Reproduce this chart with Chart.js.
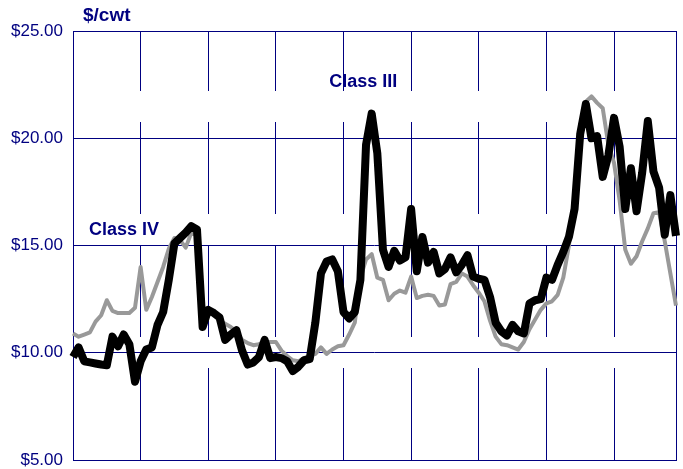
<!DOCTYPE html>
<html>
<head>
<meta charset="utf-8">
<script src="https://cdn.jsdelivr.net/npm/chart.js@4/dist/chart.umd.min.js"></script>
<style>
  html, body { margin: 0; padding: 0; background: #fff; }
  #wrap { width: 683px; height: 469px; }
</style>
</head>
<body>
<div id="wrap"><canvas id="milkChart"></canvas></div>
<script>
// monthly prices, $/cwt
const years = ['2000', '2001', '2002', '2003', '2004', '2005', '2006', '2007', '2008'];
const months = ['Jan', 'Feb', 'Mar', 'Apr', 'May', 'Jun', 'Jul', 'Aug', 'Sep', 'Oct', 'Nov', 'Dec'];

const classIII = [
  9.80, 10.25, 9.60, 9.55, 9.50, 9.45, 9.42, 10.75, 10.30, 10.85, 10.40, 8.65,
  9.60, 10.15, 10.25, 11.30, 11.90, 13.40, 15.10, 15.35, 15.60, 15.90, 15.75, 11.20,
  12.00, 11.85, 11.65, 10.60, 10.85, 11.05, 10.10, 9.45, 9.55, 9.80, 10.60, 9.75,
  9.80, 9.75, 9.60, 9.15, 9.35, 9.65, 9.70, 11.40, 13.70, 14.25, 14.35, 13.80,
  11.90, 11.60, 11.90, 13.40, 19.70, 21.15, 19.30, 14.80, 14.00, 14.75, 14.30, 14.45,
  16.70, 13.80, 15.40, 14.20, 14.70, 13.70, 13.90, 14.45, 13.75, 14.10, 14.55, 13.55,
  13.45, 13.40, 12.60, 11.40, 11.00, 10.80, 11.30, 11.00, 10.90, 12.30, 12.45, 12.50,
  13.50, 13.40, 14.10, 14.70, 15.40, 16.70, 20.20, 21.60, 20.00, 20.10, 18.20, 19.20,
  20.95, 19.60, 16.70, 18.60, 16.60, 18.40, 20.80, 18.45, 17.70, 15.50, 17.35, 15.45
];

const classIV = [
  10.90, 10.75, 10.85, 10.95, 11.45, 11.75, 12.45, 11.95, 11.85, 11.85, 11.85, 12.10,
  14.00, 12.00, 12.60, 13.30, 14.00, 14.85, 15.35, 15.25, 14.90, 15.60, 15.50, 11.60,
  11.90, 11.80, 11.50, 11.35, 11.20, 11.00, 10.60, 10.45, 10.35, 10.40, 10.50, 10.50,
  10.50, 10.10, 9.85, 9.65, 9.60, 9.75, 9.85, 9.95, 10.25, 9.95, 10.15, 10.30,
  10.35, 10.85, 11.40, 13.50, 14.35, 14.60, 13.50, 13.40, 12.45, 12.75, 12.90, 12.80,
  13.55, 12.55, 12.65, 12.70, 12.65, 12.20, 12.25, 13.20, 13.30, 13.70, 13.55, 13.15,
  12.80, 12.40, 11.50, 10.75, 10.40, 10.35, 10.25, 10.15, 10.50, 11.10, 11.55, 12.00,
  12.30, 12.40, 12.70, 13.50, 15.00, 17.40, 20.60, 21.70, 21.95, 21.65, 21.40, 19.70,
  18.85, 17.10, 14.80, 14.15, 14.50, 15.20, 15.80, 16.50, 16.55, 15.20, 13.70, 12.20
];

const yTicks = [5, 10, 15, 20, 25];

const navy = '#000080';
const fontFamily = '"Liberation Sans", Arial, sans-serif';

const labels = [];
years.forEach(y => months.forEach(m => labels.push(m + ' ' + y)));

// frame round the plot area and the text labels
const framePlugin = {
  id: 'frame',
  beforeDatasetsDraw(chart) {
    const { ctx, chartArea: a } = chart;
    ctx.save();
    ctx.strokeStyle = navy;
    ctx.lineWidth = 1;
    ctx.strokeRect(Math.round(a.left) + 0.5, Math.round(a.top) + 0.5,
      Math.round(a.right - a.left), Math.round(a.bottom - a.top));
    ctx.restore();
  },
  afterDraw(chart) {
    const { ctx, chartArea: a, scales: { x, y } } = chart;
    ctx.save();
    ctx.fillStyle = navy;
    ctx.textAlign = 'left';
    ctx.textBaseline = 'middle';
    ctx.font = 'bold 19px ' + fontFamily;
    ctx.fillText('$/cwt', a.left + 10, 16);
    ctx.font = 'bold 18px ' + fontFamily;
    ctx.fillText('Class III', x.getPixelForValue(45.45), y.getPixelForValue(22.62));
    ctx.fillText('Class IV', x.getPixelForValue(2.85), y.getPixelForValue(15.72));
    ctx.restore();
  }
};

const ctx = document.getElementById('milkChart').getContext('2d');
new Chart(ctx, {
  type: 'line',
  data: {
    labels: labels,
    datasets: [
      {
        label: 'Class III',
        data: classIII,
        borderColor: '#000000',
        borderWidth: 8,
        borderJoinStyle: 'round',
        pointRadius: 0,
        tension: 0,
        fill: false
      },
      {
        label: 'Class IV',
        data: classIV,
        borderColor: '#999999',
        borderWidth: 4,
        borderJoinStyle: 'round',
        pointRadius: 0,
        tension: 0,
        fill: false
      }
    ]
  },
  options: {
    responsive: true,
    maintainAspectRatio: false,
    animation: false,
    devicePixelRatio: 1,
    layout: { padding: { top: 31, right: 7, bottom: 9, left: 0 } },
    plugins: {
      legend: { display: false },
      tooltip: { enabled: false }
    },
    scales: {
      x: {
        offset: false,
        afterFit: scale => {
          scale.height = 0;
          scale.paddingLeft = 0;
          scale.paddingRight = 0;
        },
        ticks: { display: false, autoSkip: false, padding: 0 },
        grid: {
          offset: false,
          drawTicks: false,
          lineWidth: 1,
          color: c => (c.index > 0 && c.index % 12 === 0) ? navy : 'rgba(0,0,0,0)'
        },
        border: { display: false, dash: [92, 31], dashOffset: 32 }
      },
      y: {
        min: 5,
        max: 25,
        afterBuildTicks: scale => { scale.ticks = yTicks.map(v => ({ value: v })); },
        afterFit: scale => {
          scale.width = 73;
          scale.paddingTop = 0;
          scale.paddingBottom = 0;
        },
        ticks: {
          padding: 10,
          color: navy,
          font: { family: fontFamily, size: 17 },
          callback: v => '$' + Number(v).toFixed(2)
        },
        grid: { color: navy, lineWidth: 1, drawTicks: false },
        border: { display: false }
      }
    }
  },
  plugins: [framePlugin]
});
</script>
</body>
</html>
